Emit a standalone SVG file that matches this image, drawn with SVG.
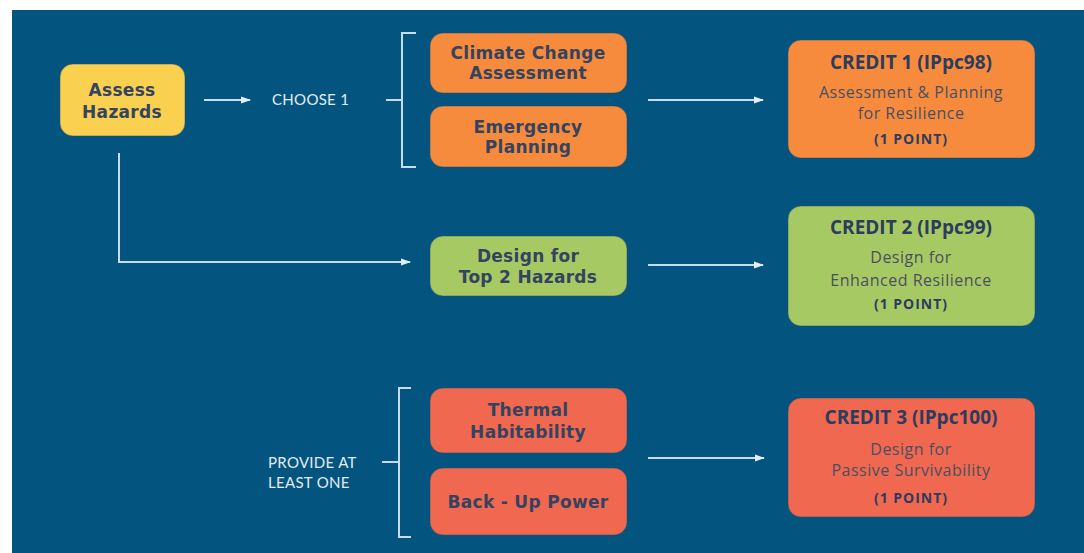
<svg xmlns="http://www.w3.org/2000/svg" width="1084" height="553" viewBox="0 0 1084 553">
<defs>
<marker id="ah" markerWidth="10" markerHeight="8" refX="9" refY="4" orient="auto" markerUnits="userSpaceOnUse">
<path d="M0,0.5 L10,4 L0,7.5 Z" fill="#e6eef7"/>
</marker>
<style>
.bg{fill:#03557f}
.box{stroke:#2b4a63;stroke-width:1;stroke-opacity:0.5}
.yel{fill:#f9d04f}
.org{fill:#f68b3d}
.grn{fill:#a7c964}
.red{fill:#f06850}
.lbl{font-family:"DejaVu Sans","Liberation Sans",sans-serif;font-weight:bold;font-size:17px;letter-spacing:0.3px;fill:#34435f;text-anchor:middle}
.ct{font-family:"Open Sans","Liberation Sans",sans-serif;font-weight:bold;font-size:19px;fill:#2c3c5d;text-anchor:middle}
.cs{font-family:"Open Sans","Liberation Sans",sans-serif;font-size:16px;letter-spacing:0.5px;fill:#4a4f60;text-anchor:middle}
.cp{font-family:"Open Sans","Liberation Sans",sans-serif;font-weight:bold;font-size:14px;letter-spacing:1px;fill:#2c3c5d;text-anchor:middle}
.note{font-family:Lato,"Liberation Sans",sans-serif;font-size:15px;letter-spacing:0.3px;fill:#e3eaf2}
.ln{fill:none;stroke:#c9dcee;stroke-width:2}
</style>
</defs>
<rect x="0" y="0" width="1084" height="553" fill="#ffffff"/>
<rect class="bg" x="12" y="10" width="1072" height="543"/>

<g id="connectors">
<line class="ln" x1="204" y1="100" x2="250" y2="100" marker-end="url(#ah)"/>
<line class="ln" x1="386" y1="100" x2="402" y2="100"/>
<path class="ln" d="M416,33 H402 V167 H416"/>
<line class="ln" x1="648" y1="100" x2="763" y2="100" marker-end="url(#ah)"/>
<path class="ln" d="M119,153 V262 H410" marker-end="url(#ah)"/>
<line class="ln" x1="648" y1="265" x2="763" y2="265" marker-end="url(#ah)"/>
<line class="ln" x1="382" y1="462" x2="399" y2="462"/>
<path class="ln" d="M411,388 H399 V537 H411"/>
<line class="ln" x1="648" y1="458" x2="764" y2="458" marker-end="url(#ah)"/>
<text class="note" x="272" y="105">CHOOSE 1</text>
<text class="note" x="268" y="468">PROVIDE AT</text>
<text class="note" x="268" y="488">LEAST ONE</text>
</g>

<g id="assess">
<rect class="box yel" x="60" y="64" width="125" height="72" rx="13"/>
<text class="lbl" x="122" y="96">Assess</text>
<text class="lbl" x="122" y="118">Hazards</text>
</g>

<g id="climate">
<rect class="box org" x="430" y="33" width="197" height="60" rx="13"/>
<text class="lbl" x="528" y="59">Climate Change</text>
<text class="lbl" x="528" y="79">Assessment</text>
</g>

<g id="emergency">
<rect class="box org" x="430" y="106" width="197" height="61" rx="13"/>
<text class="lbl" x="528" y="133">Emergency</text>
<text class="lbl" x="528" y="153">Planning</text>
</g>

<g id="credit1">
<rect class="box org" x="788" y="40" width="247" height="118" rx="13"/>
<text class="ct" x="911" y="69">CREDIT 1 (IPpc98)</text>
<text class="cs" x="911" y="98">Assessment &amp; Planning</text>
<text class="cs" x="911" y="119">for Resilience</text>
<text class="cp" x="911" y="144">(1 POINT)</text>
</g>

<g id="design">
<rect class="box grn" x="430" y="236" width="197" height="60" rx="13"/>
<text class="lbl" x="528" y="262">Design for</text>
<text class="lbl" x="528" y="283">Top 2 Hazards</text>
</g>

<g id="credit2">
<rect class="box grn" x="788" y="206" width="247" height="120" rx="13"/>
<text class="ct" x="911" y="234">CREDIT 2 (IPpc99)</text>
<text class="cs" x="911" y="263">Design for</text>
<text class="cs" x="911" y="286">Enhanced Resilience</text>
<text class="cp" x="911" y="309">(1 POINT)</text>
</g>

<g id="thermal">
<rect class="box red" x="430" y="388" width="197" height="65" rx="13"/>
<text class="lbl" x="528" y="416">Thermal</text>
<text class="lbl" x="528" y="438">Habitability</text>
</g>

<g id="backup">
<rect class="box red" x="430" y="468" width="197" height="67" rx="13"/>
<text class="lbl" x="528" y="508">Back - Up Power</text>
</g>

<g id="credit3">
<rect class="box red" x="788" y="398" width="247" height="119" rx="13"/>
<text class="ct" x="911" y="424">CREDIT 3 (IPpc100)</text>
<text class="cs" x="911" y="455">Design for</text>
<text class="cs" x="911" y="476">Passive Survivability</text>
<text class="cp" x="911" y="503">(1 POINT)</text>
</g>
</svg>
